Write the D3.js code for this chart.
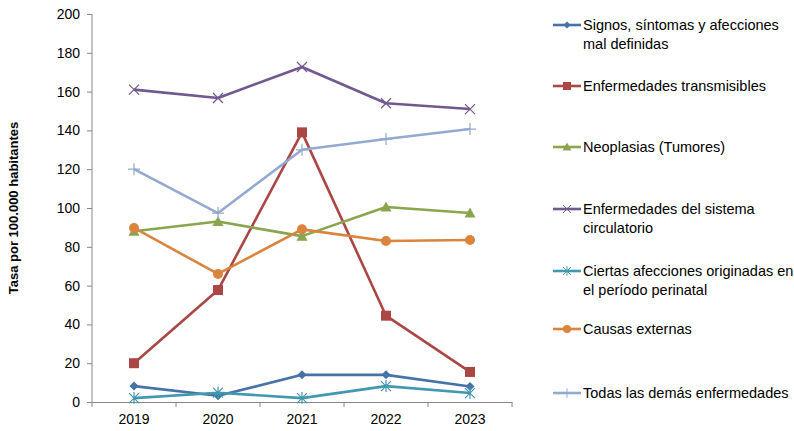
<!DOCTYPE html>
<html>
<head>
<meta charset="utf-8">
<script src="https://cdn.jsdelivr.net/npm/d3@7"></script>
<style>
  body { margin: 0; background: #fff; }
  text { font-family: "Liberation Sans", Arial, sans-serif; }
</style>
</head>
<body>
<div id="chart"></div>
<script>
// data
var years = ['2019', '2020', '2021', '2022', '2023'];
var yTicks = [0, 20, 40, 60, 80, 100, 120, 140, 160, 180, 200];
var seriesNames = [
    ['Signos, síntomas y afecciones', 'mal definidas'],
    ['Enfermedades transmisibles'],
    ['Neoplasias (Tumores)'],
    ['Enfermedades del sistema', 'circulatorio'],
    ['Ciertas afecciones originadas en', 'el período perinatal'],
    ['Causas externas'],
    ['Todas las demás enfermedades']
];
var signos = [8.2, 3.2, 14, 14, 8];
var transmisibles = [20, 57.7, 139, 44.5, 15.5];
var neoplasias = [88, 93, 85.5, 100.5, 97.4];
var circulatorio = [161, 156.7, 172.7, 154, 151];
var perinatal = [2, 4.8, 2, 8.2, 4.6];
var externas = [89.7, 66, 89, 83, 83.5];
var demas = [120, 97.4, 130, 135.6, 140.7];

var seriesValues = [signos, transmisibles, neoplasias, circulatorio, perinatal, externas, demas];
var colors = ['#4572A7', '#AA4643', '#89A54E', '#71588F', '#4198AF', '#DB843D', '#93A9CF'];
var markers = ['diamond', 'square', 'triangle', 'x', 'asterisk', 'circle', 'plus'];

var config = {width: 794, height: 431, margin: {top: 14, right: 282, bottom: 29, left: 92}};

var svg = d3.select('#chart').append('svg')
    .attr('width', config.width)
    .attr('height', config.height);

var x = d3.scaleBand()
    .domain(years)
    .range([config.margin.left, config.width - config.margin.right]);
var y = d3.scaleLinear()
    .domain([0, 200])
    .range([config.height - config.margin.bottom, config.margin.top]);

//axes
var xAxis = svg.append('g')
    .attr('transform', 'translate(0,' + y(0) + ')')
    .call(d3.axisBottom(x).tickSize(0).tickPadding(12));
xAxis.select('.domain').attr('stroke', '#868686');
xAxis.selectAll('text').attr('font-size', '14px').attr('fill', '#000');
// tick marks between categories
var edges = years.map(function (d) { return x(d); }).concat([x.range()[1]]);
xAxis.selectAll('line.sep').data(edges).enter().append('line')
    .attr('class', 'sep')
    .attr('x1', function (d) { return d; }).attr('x2', function (d) { return d; })
    .attr('y1', 0).attr('y2', 5)
    .attr('stroke', '#868686');

var yAxis = svg.append('g')
    .attr('transform', 'translate(' + config.margin.left + ',0)')
    .call(d3.axisLeft(y).tickValues(yTicks).tickSize(5).tickPadding(7));
yAxis.select('.domain').attr('stroke', '#868686').attr('d', 'M0,' + y(0) + 'V' + y(200));
yAxis.selectAll('line').attr('stroke', '#868686');
yAxis.selectAll('text').attr('font-size', '14px').attr('fill', '#000');

svg.append('text')
    .attr('transform', 'translate(18,' + ((y(0) + y(200)) / 2) + ') rotate(-90)')
    .attr('text-anchor', 'middle')
    .attr('font-size', '13px')
    .attr('font-weight', 'bold')
    .text('Tasa por 100.000 habitantes');

function drawMarker(g, type, color) {
    if (type === 'diamond') {
        g.append('path').attr('d', 'M0,-4.5L4.5,0L0,4.5L-4.5,0Z').attr('fill', color);
    } else if (type === 'square') {
        g.append('rect').attr('x', -5).attr('y', -5).attr('width', 10).attr('height', 10).attr('fill', color);
    } else if (type === 'triangle') {
        g.append('path').attr('d', 'M0,-5.5L5.5,4.5L-5.5,4.5Z').attr('fill', color);
    } else if (type === 'circle') {
        g.append('circle').attr('r', 5).attr('fill', color);
    } else if (type === 'x') {
        g.append('path').attr('d', 'M-5,-5L5,5M-5,5L5,-5').attr('stroke', color).attr('stroke-width', 1.2);
    } else if (type === 'asterisk') {
        g.append('path').attr('d', 'M-5,-5L5,5M-5,5L5,-5M0,-6V6').attr('stroke', color).attr('stroke-width', 1.2);
    } else if (type === 'plus') {
        g.append('path').attr('d', 'M-6,0H6M0,-6V6').attr('stroke', color).attr('stroke-width', 1.2);
    }
}

var line = d3.line()
    .x(function (d, i) { return x(years[i]) + x.bandwidth() / 2; })
    .y(function (d) { return y(d); });

seriesValues.forEach(function (vals, k) {
    svg.append('path')
        .attr('d', line(vals))
        .attr('fill', 'none')
        .attr('stroke', colors[k])
        .attr('stroke-width', 2.6)
        .attr('stroke-linejoin', 'round');
    vals.forEach(function (v, i) {
        var g = svg.append('g')
            .attr('transform', 'translate(' + (x(years[i]) + x.bandwidth() / 2) + ',' + y(v) + ')');
        drawMarker(g, markers[k], colors[k]);
    });
});

//legend
var legendY = [25, 86, 147, 209, 271, 329, 393];
seriesNames.forEach(function (name, k) {
    var g = svg.append('g').attr('transform', 'translate(553,' + legendY[k] + ')');
    g.append('line').attr('x1', 0).attr('x2', 28).attr('y1', 0).attr('y2', 0)
        .attr('stroke', colors[k]).attr('stroke-width', 2.6);
    var m = g.append('g').attr('transform', 'translate(14,0) scale(0.8)');
    drawMarker(m, markers[k], colors[k]);
    name.forEach(function (t, j) {
        g.append('text')
            .attr('x', 30)
            .attr('y', 5 + j * 19)
            .attr('font-size', '14.5px')
            .attr('fill', '#000')
            .text(t);
    });
});
</script>
</body>
</html>
